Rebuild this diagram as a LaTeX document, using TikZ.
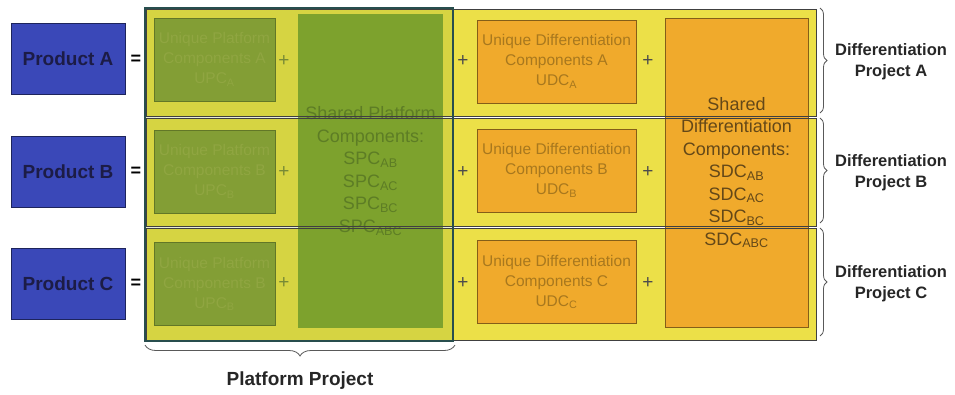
\documentclass[tikz,border=0pt]{standalone}
\usepackage{fontspec}
\setmainfont{Liberation Sans}
\usetikzlibrary{decorations.pathreplacing}
\definecolor{prodblue}{RGB}{58,72,184}
\definecolor{prodtext}{RGB}{28,28,70}
\definecolor{bandyellow}{RGB}{236,224,72}
\definecolor{platgreen}{RGB}{118,158,44}
\definecolor{uniqgreen}{RGB}{134,158,56}
\definecolor{upctext}{RGB}{150,168,70}
\definecolor{spctext}{RGB}{88,118,36}
\definecolor{difforange}{RGB}{240,170,44}
\definecolor{udctext}{RGB}{168,120,30}
\definecolor{sdctext}{RGB}{100,72,24}
\definecolor{edgeteal}{RGB}{40,78,78}

\begin{document}
\begin{tikzpicture}[
      x = 1pt, y = -1pt,
      prod/.style={
        draw = prodblue!50!black,
        fill = prodblue,
        minimum width = 114pt, minimum height = 71pt,
        font = \fontsize{19}{21}\selectfont\bfseries,
        text = prodtext,
      },
      band/.style={
        fill = bandyellow,
        minimum width = 669pt,
        inner sep = 0pt,
      },
      bandline/.style={draw = black!75, line width = 0.8pt},
      upc/.style={
        draw = uniqgreen!70!black,
        fill = uniqgreen,
        minimum width = 121pt, minimum height = 83pt,
        align = center,
        font = \fontsize{15.5}{20}\selectfont,
        text = upctext,
      },
      udc/.style={
        draw = difforange!55!black,
        fill = difforange,
        minimum width = 159pt, minimum height = 83pt,
        align = center,
        font = \fontsize{15.5}{20}\selectfont,
        text = udctext,
      },
      shared/.style={
        align = center,
        font = \fontsize{18}{22.5}\selectfont,
      },
      sym/.style={font = \fontsize{18}{18}\selectfont\bfseries},
      plus/.style={font = \fontsize{19}{19}\selectfont, text = black!70},
      proj/.style={
        align = center,
        font = \fontsize{16.5}{21}\selectfont\bfseries,
        text = black!85,
      },
      brace/.style={
        decorate,
        decoration = {brace, amplitude = 7pt},
        draw = black!65, line width = 0.8pt,
      },
    ]
    \useasboundingbox (0,0) rectangle (955,394);

    % rows
    \node[band, minimum height = 106pt] (bandA) at (481.5,63) {};
    \node[band, minimum height = 107pt] (bandB) at (481.5,172.5) {};
    \node[band, minimum height = 111pt] (bandC) at (481.5,284.5) {};

    % products
    \node[prod] (prodA) at (68,58.5) {Product A};
    \node[prod] (prodB) at (68,171.5) {Product B};
    \node[prod] (prodC) at (68,284) {Product C};
    \node[sym] (eqA) at (136,60) {=};
    \node[sym] (eqB) at (136,172) {=};
    \node[sym] (eqC) at (136,284) {=};

    % differentiation part
    \node[udc] (udcA) at (556.5,61.5) {Unique Differentiation\\Components A\\UDC\textsubscript{A}};
    \node[udc] (udcB) at (556.5,170.5) {Unique Differentiation\\Components B\\UDC\textsubscript{B}};
    \node[udc] (udcC) at (556.5,282) {Unique Differentiation\\Components C\\UDC\textsubscript{C}};
    \node[draw = difforange!55!black, fill = difforange, minimum width = 143pt,
      minimum height = 309pt, shared, text = sdctext] (sdc) at (736.5,172.5)
      {Shared\\Differentiation\\Components:\\SDC\textsubscript{AB}\\SDC\textsubscript{AC}\\
       SDC\textsubscript{BC}\\SDC\textsubscript{ABC}};
    \node[plus] (plA1) at (463,61) {+};
    \node[plus] (plB1) at (463,172) {+};
    \node[plus] (plC1) at (463,283) {+};
    \node[plus] (plA2) at (648,61) {+};
    \node[plus] (plB2) at (648,172) {+};
    \node[plus] (plC2) at (648,283) {+};

    % platform part
    \node[upc] (upcA) at (214.5,59.5) {Unique Platform\\Components A\\UPC\textsubscript{A}};
    \node[upc] (upcB) at (214.5,171.5) {Unique Platform\\Components B\\UPC\textsubscript{B}};
    \node[upc] (upcC) at (214.5,284) {Unique Platform\\Components B\\UPC\textsubscript{B}};
    \node[fill = platgreen, fill opacity = 0.92, text opacity = 1, minimum width = 145pt,
      minimum height = 314pt, shared, text = spctext] (spc) at (370.5,171)
      {Shared Platform\\Components:\\SPC\textsubscript{AB}\\SPC\textsubscript{AC}\\
       SPC\textsubscript{BC}\\SPC\textsubscript{ABC}};
    \node[plus, text = upctext!80!black] (plA0) at (284,61) {+};
    \node[plus, text = upctext!80!black] (plB0) at (284,172) {+};
    \node[plus, text = upctext!80!black] (plC0) at (284,283) {+};
    \node[fill = platgreen, fill opacity = 0.18, minimum width = 308pt,
      minimum height = 333pt, inner sep = 0pt] (plat) at (299,174.5) {};

    \draw[bandline] (bandA.north west) rectangle (bandA.south east);
    \draw[bandline] (bandB.north west) rectangle (bandB.south east);
    \draw[bandline] (bandC.north west) rectangle (bandC.south east);
    \draw[edgeteal, line width = 1.6pt] (plat.north west) rectangle (plat.south east);

    % projects
    \coordinate (brA1) at (820,8);   \coordinate (brA2) at (820,113);
    \coordinate (brB1) at (820,118); \coordinate (brB2) at (820,223);
    \coordinate (brC1) at (820,228); \coordinate (brC2) at (820,336);
    \draw[brace] (brA1) -- (brA2);
    \draw[brace] (brB1) -- (brB2);
    \draw[brace] (brC1) -- (brC2);
    \node[proj] (projA) at (891,62) {Differentiation\\Project A};
    \node[proj] (projB) at (891,173) {Differentiation\\Project B};
    \node[proj] (projC) at (891,284) {Differentiation\\Project C};

    \coordinate (brP1) at (455,345); \coordinate (brP2) at (145,345);
    \draw[brace, decoration = {brace, amplitude = 11pt}] (brP1) -- (brP2);
    \node[proj, font = \fontsize{19}{21}\selectfont\bfseries] (projP) at (300,381) {Platform Project};
  \end{tikzpicture}
\end{document}
